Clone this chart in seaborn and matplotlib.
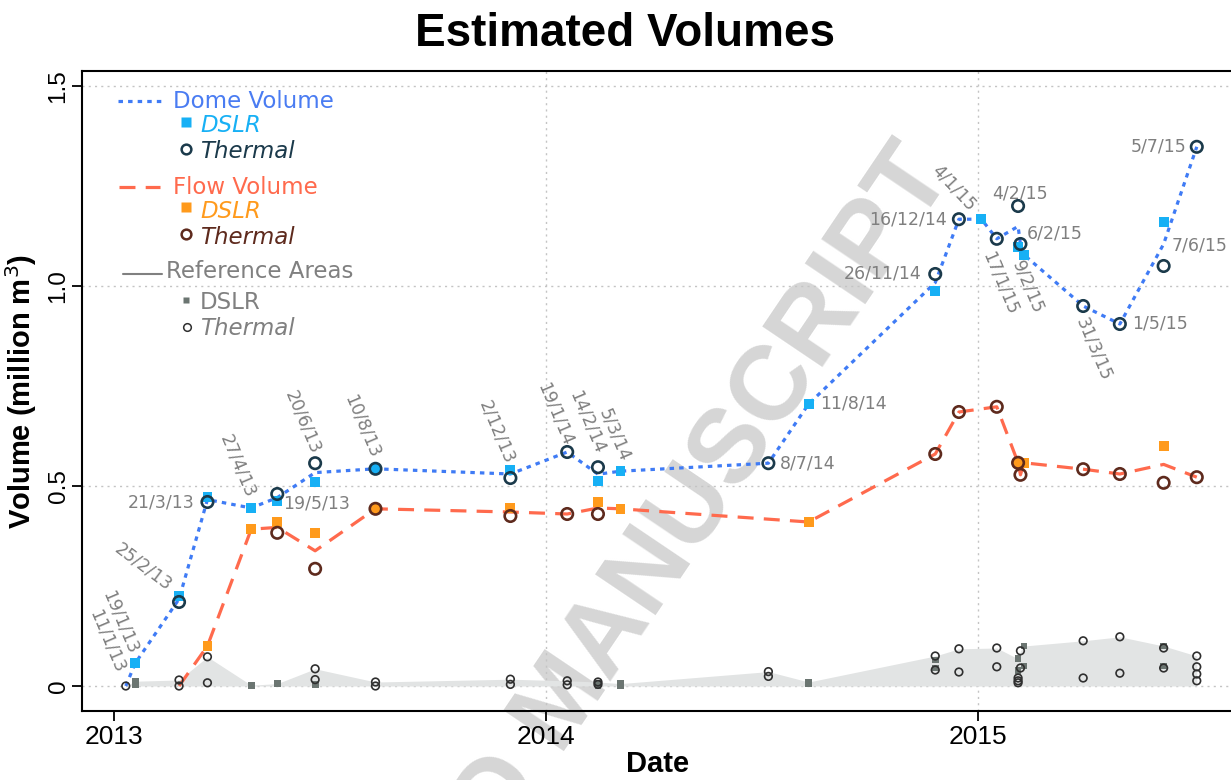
import seaborn as sns
import matplotlib.pyplot as plt
import matplotlib.dates as mdates
from matplotlib.lines import Line2D
import pandas as pd
import numpy as np

nan = np.nan

# survey dates (d/m/yy) and estimated volumes, million m3
dates = ["11/1/13", "19/1/13", "25/2/13", "21/3/13", "27/4/13", "19/5/13", "20/6/13",
         "10/8/13", "2/12/13", "19/1/14", "14/2/14", "5/3/14", "8/7/14", "11/8/14",
         "26/11/14", "16/12/14", "4/1/15", "17/1/15", "4/2/15", "6/2/15", "9/2/15",
         "31/3/15", "1/5/15", "7/6/15", "5/7/15"]
dome_dslr = [nan, 0.057, 0.225, 0.472, 0.445, 0.462, 0.51, 0.543, 0.54, nan, 0.512, 0.537,
             nan, 0.705, 0.987, nan, 1.167, nan, 1.098, nan, 1.078, nan, nan, 1.16, nan]
dome_thermal = [0.0, nan, 0.21, 0.46, nan, 0.48, 0.557, 0.543, 0.52, 0.585, 0.547, nan,
                0.557, nan, 1.03, 1.167, nan, 1.118, 1.2, 1.105, nan, 0.95, 0.905, 1.05, 1.348]
flow_dslr = [nan, nan, nan, 0.1, 0.392, 0.41, 0.383, 0.443, 0.445, nan, 0.46, 0.443,
             nan, 0.41, nan, nan, nan, nan, 0.558, nan, 0.558, nan, nan, 0.6, nan]
flow_thermal = [nan, nan, 0.0, nan, nan, 0.383, 0.293, 0.443, 0.425, 0.43, 0.43, nan,
                nan, nan, 0.58, 0.685, nan, 0.698, 0.558, 0.528, nan, 0.542, 0.53, 0.508, 0.522]

# reference areas (one entry per area)
ref_dslr_dates = ["19/1/13", "19/1/13", "27/4/13", "19/5/13", "20/6/13", "14/2/14", "14/2/14",
                  "5/3/14", "5/3/14", "11/8/14", "11/8/14", "26/11/14", "26/11/14",
                  "4/2/15", "4/2/15", "9/2/15", "9/2/15", "7/6/15", "7/6/15"]
ref_dslr_vals = [0.012, 0.004, 0.002, 0.006, 0.003, 0.006, 0.002, 0.006, 0.0, 0.01, 0.005,
                 0.065, 0.045, 0.068, 0.038, 0.1, 0.05, 0.1, 0.05]
ref_thermal_dates = ["11/1/13", "25/2/13", "25/2/13", "21/3/13", "21/3/13", "20/6/13", "20/6/13",
                     "10/8/13", "10/8/13", "2/12/13", "2/12/13", "19/1/14", "19/1/14",
                     "14/2/14", "14/2/14", "8/7/14", "8/7/14", "26/11/14", "26/11/14",
                     "16/12/14", "16/12/14", "17/1/15", "17/1/15", "4/2/15", "4/2/15", "4/2/15",
                     "6/2/15", "6/2/15", "31/3/15", "31/3/15", "1/5/15", "1/5/15",
                     "7/6/15", "7/6/15", "5/7/15", "5/7/15", "5/7/15", "5/7/15"]
ref_thermal_vals = [0.0, 0.015, 0.0, 0.073, 0.008, 0.043, 0.016, 0.01, 0.0, 0.017, 0.004,
                    0.013, 0.003, 0.01, 0.004, 0.036, 0.024, 0.075, 0.04, 0.093, 0.035,
                    0.095, 0.048, 0.02, 0.013, 0.008, 0.088, 0.045, 0.113, 0.02, 0.123, 0.032,
                    0.095, 0.045, 0.075, 0.048, 0.03, 0.013]

year_ticks = ["2013", "2014", "2015"]
y_ticks = [0, 0.5, 1.0, 1.5]
y_tick_labels = ["0", "0.5", "1.0", "1.5"]

# label placement: rotation, alignment, offset in pixels (right, down)
label_style = {
    "11/1/13": (-67, "right", -6, -14), "19/1/13": (-67, "right", -2, -10),
    "25/2/13": (-37, "right", -9, -9), "21/3/13": (0, "right", -13, 5),
    "27/4/13": (-67, "right", 0, -11), "19/5/13": (0, "left", 6, 9),
    "20/6/13": (-67, "right", 1, -10), "10/8/13": (-67, "right", 0, -12),
    "2/12/13": (-67, "right", -1, -7), "19/1/14": (-67, "right", 1, -7),
    "14/2/14": (-67, "right", 2, -15), "5/3/14": (-67, "right", 5, -11),
    "8/7/14": (0, "left", 11, 0), "11/8/14": (0, "left", 12, 0),
    "26/11/14": (0, "right", -14, 0), "16/12/14": (0, "right", -12, 0),
    "4/1/15": (-47, "right", -9, -11), "17/1/15": (-67, "left", -10, 14),
    "4/2/15": (0, "center", 2, -13), "6/2/15": (0, "left", 6, -10),
    "9/2/15": (-67, "left", -7, 7), "31/3/15": (-67, "left", -2, 12),
    "1/5/15": (0, "left", 12, -1), "7/6/15": (0, "left", 8, 23),
    "5/7/15": (0, "right", -10, 0),
}

C_DOME = "#3f7bf5"
C_DOME_DSLR = "#17b0f5"
C_DOME_TH = "#1b3a4b"
C_FLOW = "#ff6a4d"
C_FLOW_DSLR = "#ff9a1c"
C_FLOW_TH = "#5e2a1d"
C_REF = "#808080"
C_REF_DSLR = "#6b7571"
C_REF_TH = "#2f2f2f"
C_FILL = "#e2e4e4"
DOME_LS = (0, (1.4, 1.6))
FLOW_LS = (0, (5, 3.2))


def to_dt(s):
    return pd.to_datetime(s, format="%d/%m/%y")


def long_form(dslr, thermal):
    df = pd.DataFrame({"label": dates, "DSLR": dslr, "Thermal": thermal})
    df = df.melt(id_vars="label", var_name="sensor", value_name="volume").dropna()
    df["date"] = to_dt(df["label"])
    return df


dome = long_form(dome_dslr, dome_thermal)
flow = long_form(flow_dslr, flow_thermal)
ref = pd.concat([
    pd.DataFrame({"date": to_dt(pd.Series(ref_dslr_dates)), "volume": ref_dslr_vals, "sensor": "DSLR"}),
    pd.DataFrame({"date": to_dt(pd.Series(ref_thermal_dates)), "volume": ref_thermal_vals, "sensor": "Thermal"}),
])

sns.set_theme(style="white")
plt.rcParams["font.family"] = ["DejaVu Sans"]
plt.rcParams.update({"text.color": "black", "axes.labelcolor": "black",
                     "xtick.color": "black", "ytick.color": "black"})

W, H = 1231, 780
fig = plt.figure(figsize=(W / 100, H / 100), dpi=100)
ax = fig.add_axes([82 / W, 1 - 711 / H, 1.002 - 82 / W, (711 - 71) / H])
ax.set_facecolor("none")


def px(x, y):
    return x / W, 1 - y / H


# reference area envelope
env = ref.groupby("date")["volume"].max()
ax.fill_between(env.index, 0, env.values, color=C_FILL, lw=0, zorder=1)

# volume lines (mean of available sensors per date)
sns.lineplot(data=dome, x="date", y="volume", estimator="mean", errorbar=None,
             color=C_DOME, lw=2.3, linestyle=DOME_LS, zorder=2, ax=ax)
sns.lineplot(data=flow, x="date", y="volume", estimator="mean", errorbar=None,
             color=C_FLOW, lw=2.3, linestyle=FLOW_LS, zorder=2, ax=ax)

for df, c_sq, c_ci in [(dome, C_DOME_DSLR, C_DOME_TH), (flow, C_FLOW_DSLR, C_FLOW_TH)]:
    shown = df[df["volume"] > 0]
    sns.scatterplot(data=shown[shown["sensor"] == "DSLR"], x="date", y="volume", marker="s",
                    s=50, color=c_sq, edgecolor="none", zorder=4, ax=ax)
    sns.scatterplot(data=shown[shown["sensor"] == "Thermal"], x="date", y="volume", marker="o",
                    s=68, facecolor="none", edgecolor=c_ci, linewidth=1.9, zorder=5, ax=ax)

sns.scatterplot(data=ref[ref["sensor"] == "DSLR"], x="date", y="volume", marker="s", s=24,
                color=C_REF_DSLR, edgecolor="none", zorder=3, ax=ax)
sns.scatterplot(data=ref[ref["sensor"] == "Thermal"], x="date", y="volume", marker="o", s=30,
                facecolor="none", edgecolor=C_REF_TH, linewidth=1.2, zorder=3, ax=ax)

# date labels next to the dome estimates
dome_top = dome.groupby("date")["volume"].max()
for lab in dates:
    rot, ha, dx, dy = label_style[lab]
    d = to_dt(lab)
    ax.annotate(lab, xy=(mdates.date2num(d), dome_top[d]), xytext=(dx * 0.72, -dy * 0.72),
                textcoords="offset points", rotation=rot, rotation_mode="anchor",
                ha=ha, va="center", fontsize=12.5, color="#7f7f7f", zorder=6)

# axes styling
ax.set_xlim(pd.Timestamp("2012-12-05"), pd.Timestamp("2015-08-05"))
ax.set_ylim(-0.0625, 1.5375)
ax.xaxis.set_major_locator(mdates.YearLocator())
ax.xaxis.set_major_formatter(mdates.DateFormatter("%Y"))
ax.set_yticks(y_ticks)
ax.set_yticklabels(y_tick_labels, rotation=90, va="center", fontsize=17.5, family="Liberation Sans")
for t in ax.get_xticklabels():
    t.set_fontsize(19)
    t.set_family("Liberation Sans")
ax.tick_params(axis="both", direction="out", length=7, width=1.3, color="black",
               labelcolor="black", left=True, bottom=True)
ax.tick_params(axis="y", pad=2)
ax.tick_params(axis="x", pad=3)
ax.grid(axis="y", linestyle=(0, (1.5, 3)), color="#c4c4c4", lw=1)
for yr in year_ticks[1:]:
    ax.axvline(pd.Timestamp(yr), linestyle=(0, (1.5, 3)), color="#c4c4c4", lw=1, zorder=0)
for s in ax.spines.values():
    s.set_color("black")
    s.set_linewidth(1.5)

ax.set_xlabel("Date", fontsize=21, weight="bold", family="Liberation Sans", labelpad=1)
ax.set_ylabel("Volume (million m$^3$)", fontsize=21, weight="bold",
              family="Liberation Sans", labelpad=6)
fig.suptitle("Estimated Volumes", x=px(625, 0)[0], y=px(0, 34)[1], va="center",
             fontsize=33, weight="bold", family="Liberation Sans", color="black")

# legend, drawn as in the original (line key, then indented sensor keys)
def key_line(x0, x1, y, **kw):
    fig.add_artist(Line2D([x0 / W, x1 / W], [1 - y / H] * 2, transform=fig.transFigure, **kw))


def key_mark(x, y, **kw):
    fig.add_artist(Line2D([x / W], [1 - y / H], transform=fig.transFigure, ls="none", **kw))


def key_text(x, y, s, **kw):
    fig.text(*px(x, y), s, va="center", ha="left", fontsize=16.5, **kw)


key_line(118, 163, 101, color=C_DOME, lw=2.3, ls=DOME_LS)
key_text(173, 101, "Dome Volume", color="#4a7cf2")
key_mark(186, 122, marker="s", ms=6.5, mfc=C_DOME_DSLR, mec="none")
key_text(200, 125, "DSLR", color=C_DOME_DSLR, style="italic")
key_mark(186, 149, marker="o", ms=7, mfc="none", mec=C_DOME_TH, mew=1.8)
key_text(200, 151, "Thermal", color=C_DOME_TH, style="italic")

key_line(119, 160, 187, color=C_FLOW, lw=2.3, ls=FLOW_LS)
key_text(173, 187, "Flow Volume", color=C_FLOW)
key_mark(186, 207, marker="s", ms=6.5, mfc=C_FLOW_DSLR, mec="none")
key_text(200, 211, "DSLR", color=C_FLOW_DSLR, style="italic")
key_mark(186, 234, marker="o", ms=7, mfc="none", mec=C_FLOW_TH, mew=1.8)
key_text(200, 237, "Thermal", color=C_FLOW_TH, style="italic")

key_line(123, 162, 274, color=C_REF, lw=1.5)
key_text(166, 272, "Reference Areas", color=C_REF)
key_mark(186, 300, marker="s", ms=5, mfc=C_REF_DSLR, mec="none")
key_text(200, 303, "DSLR", color=C_REF)
key_mark(187, 327, marker="o", ms=5.5, mfc="none", mec=C_REF_TH, mew=1.1)
key_text(200, 328, "Thermal", color=C_REF, style="italic")

# watermark
fig.text(*px(564, 702), "ACCEPTED MANUSCRIPT", rotation=56, rotation_mode="anchor",
         ha="center", va="center", fontsize=76, weight="bold", color="#d6d6d6",
         family="Liberation Sans", zorder=-1)

fig.savefig("out.png", dpi=100)
